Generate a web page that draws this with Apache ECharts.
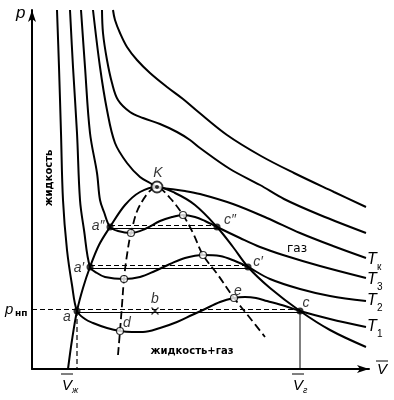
<!DOCTYPE html>
<html><head><meta charset="utf-8">
<script src="https://cdn.jsdelivr.net/npm/echarts@6/dist/echarts.min.js"></script>
<style>html,body{margin:0;padding:0;background:#fff}#c{width:394px;height:400px}</style>
</head><body><div id="c"></div><script>
// Isotherms [V, p] (arbitrary units)
const isoT6 = [[81,359],[83,349],[88,336],[95,322],[105,309],[118,296],[135,282],[151,270],[164,259],[195,234],[229,213],[262,196],[302,177],[334,162]];
const isoT5 = [[70,359],[71,336],[75,309],[80,286],[86,269],[98,257],[111,251],[128,245],[145,237],[158,229],[168,221],[198,200],[228,184],[252,170],[288,154],[334,136]];
const isoTk = [[61,359],[68,302],[75,259],[83,226],[95,206],[108,192],[118,186],[125,182],[138,180],[153,178],[168,175],[201,165],[235,151],[268,136],[301,123],[334,111]];
const isoT3 = [[49,359],[53,302],[58,236],[65,196],[68,169],[72,157],[78,142],[86,138],[99,136],[113,140],[128,148],[140,152],[151,154],[163,152],[173,148],[185,142],[208,131],[228,122],[251,114],[288,103],[334,91]];
const isoT2 = [[38,359],[41,302],[45,236],[48,169],[52,139],[58,102],[65,96],[73,92],[92,90],[108,92],[123,98],[138,105],[153,111],[171,114],[188,113],[203,108],[216,102],[238,90],[268,80],[298,73],[334,68]];
const isoT1 = [[25,359],[27,302],[29,236],[31,169],[35,119],[40,84],[45,58],[53,50],[61,46],[75,41],[88,38],[100,37],[111,37],[128,41],[145,47],[160,54],[171,59],[188,67],[202,71],[213,72],[224,71],[235,68],[253,63],[268,58],[298,50],[334,42]];
const binodal = [[36,0],[40,29],[45,58],[51,81],[58,102],[67,124],[78,142],[93,164],[108,177],[125,182],[143,176],[163,164],[185,142],[201,122],[216,102],[238,81],[268,58],[298,39],[334,22]];
const spinodal = [[86,14],[88,38],[90,64],[92,90],[95,114],[99,136],[108,164],[125,182],[138,171],[151,154],[161,136],[171,114],[186,94],[202,71],[218,51],[233,32]];
// key points
const pointNames = ['a','a′','a″','c″','c′','c'];
const pointVals = [[45,58],[58,102],[78,142],[185,142],[216,102],[268,58]];
const openNames = ['','','d','','','e'];
const openVals = [[99,136],[92,90],[88,38],[151,154],[171,114],[202,71]];
const critical = [125,182];
const pointB = [123,58];
const pSat = 58, VLiq = 45, VGas = 268;

const F = 'Liberation Sans';
const lab = (t, off) => ({show:true, formatter:t, position:'inside', offset:off, fontFamily:F, fontStyle:'italic', fontSize:14, color:'#000'});
const pointOffsets = [[-10,6],[-11,1],[-12,-1],[13,-7],[10,-5],[6,-8]];
const openOffsets = [null,null,[7,-8],null,null,[4,-7]];

function curve(data, w, dash, z){
  return {type:'line', data, smooth:0.35, symbol:'none', silent:true, z:z||2,
    lineStyle:{color:'#000', width:w, type:dash||'solid'}};
}
function seg(data, w, dash){
  return {type:'line', data, smooth:false, symbol:'none', silent:true, z:1,
    lineStyle:{color:'#000', width:w, type:dash||'solid'}};
}
const levels = [[pointVals[0],pointVals[5],true],[pointVals[1],pointVals[4],false],[pointVals[2],pointVals[3],false]];
const hseries = [];
levels.forEach(([l,r,toAxis])=>{
  hseries.push(seg([[toAxis?0:l[0], l[1]+1.5],[r[0], r[1]+1.5]], 1.2, [5,3]));
  hseries.push(seg([[l[0], l[1]-1.5],[r[0], r[1]-1.5]], 1));
});

const chart = echarts.init(document.getElementById('c'));
const ax = (max)=>({type:'value', min:0, max, axisTick:{show:false}, axisLabel:{show:false}, splitLine:{show:false},
  axisLine:{show:true, symbol:['none','arrow'], symbolSize:[6,12], lineStyle:{color:'#000', width:2}}});
chart.setOption({
  animation:false,
  grid:{left:32, right:25, top:10, bottom:31},
  xAxis: ax(337),
  yAxis: ax(359),
  series:[
    curve(isoT6,2), curve(isoT5,2), curve(isoTk,2), curve(isoT3,2), curve(isoT2,2), curve(isoT1,2),
    curve(binodal,2), curve(spinodal,1.8,[8,4]),
    ...hseries,
    seg([[VLiq,pSat],[VLiq,0]],1.2,[5,3]),
    seg([[VGas,pSat],[VGas,0]],1),
    {type:'scatter', z:5, symbol:'circle', symbolSize:7, itemStyle:{color:'#000'},
      data: pointVals.map((v,i)=>({value:v, label:lab(pointNames[i], pointOffsets[i])}))},
    {type:'scatter', z:5, symbol:'circle', symbolSize:7, itemStyle:{color:'#fff', borderColor:'#000', borderWidth:1.2},
      data: openVals.map((v,i)=>({value:v, label: openNames[i]? lab(openNames[i], openOffsets[i]) : {show:false}}))},
    {type:'scatter', z:5, symbol:'circle', symbolSize:11, itemStyle:{color:'#fff', borderColor:'#000', borderWidth:1.8},
      data:[{value:critical, label:lab('K',[1,-14])}]},
    {type:'scatter', z:6, symbol:'circle', symbolSize:4, itemStyle:{color:'#000'}, data:[critical]},
    {type:'scatter', z:5, symbol:'path://M0,0L10,10M10,0L0,10', symbolSize:7, itemStyle:{color:'none', borderColor:'#000', borderWidth:1.3},
      data:[{value:pointB, label:lab('b',[0,-12])}]}
  ],
  graphic:[
    {type:'text', left:16, top:5, style:{text:'p', font:'italic 17px '+F, fill:'#000'}},
    {type:'text', left:377, top:362, style:{text:'V', font:'italic 15px '+F, fill:'#000'}},
    {type:'line', shape:{x1:376,y1:361,x2:388,y2:361}, style:{stroke:'#000', lineWidth:1}},
    {type:'text', left:5, top:302, style:{text:'p', font:'italic 15px '+F, fill:'#000'}},
    {type:'text', left:15, top:309, style:{text:'нп', font:'bold 9px "DejaVu Sans"', fill:'#000'}},
    {type:'text', left:62, top:378, style:{text:'V', font:'italic 15px '+F, fill:'#000'}},
    {type:'text', left:72, top:386, style:{text:'ж', font:'italic 9px '+F, fill:'#000'}},
    {type:'line', shape:{x1:61,y1:374,x2:73,y2:374}, style:{stroke:'#000', lineWidth:1}},
    {type:'text', left:293, top:378, style:{text:'V', font:'italic 15px '+F, fill:'#000'}},
    {type:'text', left:303, top:386, style:{text:'г', font:'italic 9px '+F, fill:'#000'}},
    {type:'line', shape:{x1:292,y1:374,x2:304,y2:374}, style:{stroke:'#000', lineWidth:1}},
    {type:'text', x:49, y:178, rotation:Math.PI/2, style:{text:'жидкость', font:'bold 10px "DejaVu Sans"', fill:'#000', align:'center', verticalAlign:'middle'}},
    {type:'text', x:192, y:351, style:{text:'жидкость+газ', font:'bold 10px "DejaVu Sans"', fill:'#000', align:'center', verticalAlign:'middle'}},
    {type:'text', x:297, y:249, style:{text:'газ', font:'12px "DejaVu Sans"', fill:'#000', align:'center', verticalAlign:'middle'}},
    {type:'text', left:367, top:252, style:{text:'T', font:'italic 16px '+F, fill:'#000'}},
    {type:'text', left:377, top:262, style:{text:'к', font:'10px '+F, fill:'#000'}},
    {type:'text', left:367, top:272, style:{text:'T', font:'italic 16px '+F, fill:'#000'}},
    {type:'text', left:377, top:282, style:{text:'3', font:'10px '+F, fill:'#000'}},
    {type:'text', left:367, top:293, style:{text:'T', font:'italic 16px '+F, fill:'#000'}},
    {type:'text', left:377, top:303, style:{text:'2', font:'10px '+F, fill:'#000'}},
    {type:'text', left:367, top:319, style:{text:'T', font:'italic 16px '+F, fill:'#000'}},
    {type:'text', left:377, top:329, style:{text:'1', font:'10px '+F, fill:'#000'}}
  ]
});
</script></body></html>
